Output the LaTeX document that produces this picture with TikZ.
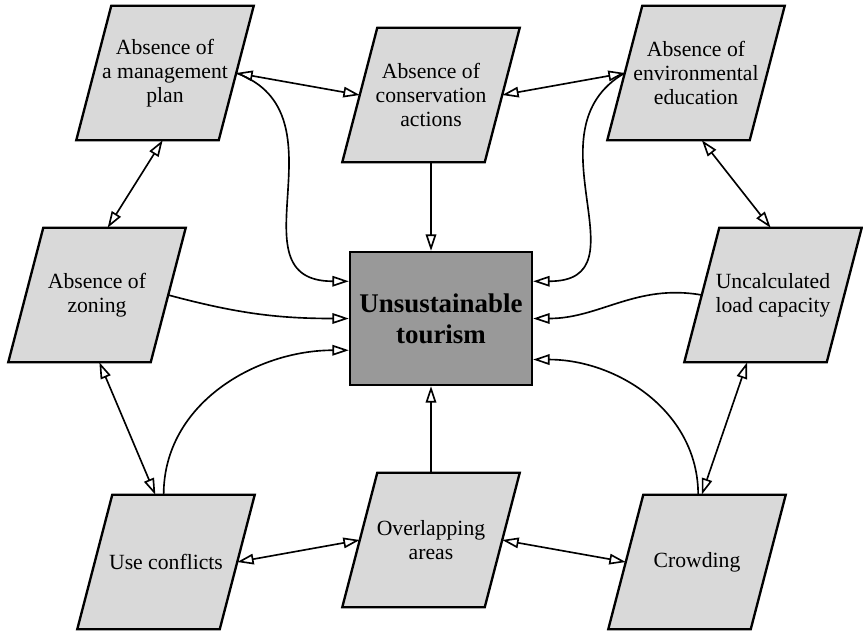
\documentclass[tikz,border=0pt]{standalone}
\usepackage{fontspec}
\setmainfont{Liberation Serif}
\usetikzlibrary{arrows.meta,backgrounds}

\definecolor{boxgray}{HTML}{D9D9D9}
\definecolor{coregray}{HTML}{999999}

\tikzset{
  factor/.style={rectangle, minimum width=4.26cm, minimum height=4.02cm,
    inner sep=0pt, align=center, font=\fontsize{18.5}{20.5}\selectfont},
  slant/.style={draw, line width=2pt, fill=boxgray},
  core/.style={rectangle, draw, line width=2pt, fill=coregray,
    minimum width=5.46cm, minimum height=3.99cm,
    align=center, font=\fontsize{23}{26.5}\selectfont\bfseries},
  link/.style={line width=1.4pt, -{Triangle[open,length=14pt,width=9pt]}},
  twoway/.style={line width=1.4pt,
    {Triangle[open,length=14pt,width=9pt]}-{Triangle[open,length=14pt,width=9pt]}},
}

\begin{document}
\begin{tikzpicture}[x=0.03cm, y=-0.03cm]
  \useasboundingbox (0,0) rectangle (863,633);

  % Boxes
  \node[core] (core) at (441,318.5) {Unsustainable\\tourism};
  \node[factor] (plan) at (165,73) {Absence of\\a management\\plan};
  \node[factor] (cons) at (431,95) {Absence of\\conservation\\actions};
  \node[factor] (edu) at (696,73) {Absence of\\environmental\\education};
  \node[factor] (zone) at (97,295) {Absence of\\zoning};
  \node[factor] (load) at (773,295) {Uncalculated\\load capacity};
  \node[factor] (use) at (166,562) {Use conflicts};
  \node[factor] (over) at (431,540) {Overlapping\\areas};
  \node[factor] (crowd) at (697,562) {Crowding};

  % slanted outlines behind the texts
  \begin{scope}[on background layer]
    \foreach \n in {plan,cons,edu,zone,load,use,over,crowd}
      \draw[slant] ([xshift=0.525cm]\n.north west) -- ([xshift=0.525cm]\n.north east)
        -- ([xshift=-0.525cm]\n.south east) -- ([xshift=-0.525cm]\n.south west) -- cycle;
  \end{scope}

  % Two-way links round the ring
  \draw[twoway] (plan.east) -- (cons.west);
  \draw[twoway] (cons.east) -- (edu.west);
  \draw[twoway] (plan.-92) -- (zone.81);
  \draw[twoway] (edu.-85) -- (load.92);
  \draw[twoway] (zone.-88) -- (use.99);
  \draw[twoway] (load.-111) -- (crowd.86);
  \draw[twoway] (use.east) -- (over.west);
  \draw[twoway] (over.east) -- (crowd.west);

  % Links into the centre
  \draw[link] (cons) -- (cons |- core.north);
  \draw[link] (over) -- (over |- core.south);
  \draw[link] (plan.east) to[out=-20, in=180, looseness=1.3] (core.158.4);
  \draw[link] (edu.west) to[out=210, in=0, looseness=1.3] (core.22.7);
  \draw[link] (zone.east) to[out=-15, in=180] (core.west);
  \draw[link] (load.west) to[out=170, in=0] (core.east);
  \draw[link] (use.92) to[out=90, in=180] (core.199.4);
  \draw[link] (crowd.89) to[out=90, in=0] (core.-24.3);
\end{tikzpicture}
\end{document}
